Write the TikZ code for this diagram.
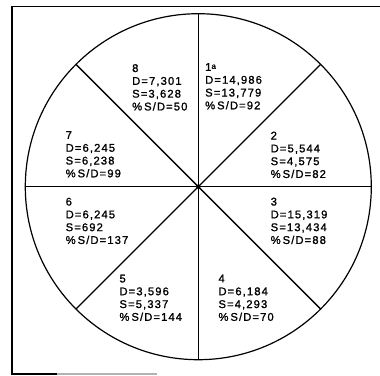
\documentclass[tikz,border=0pt]{standalone}
\usepackage{fontspec}
\setmainfont[LetterSpace=10,FakeBold=1.2]{Liberation Sans}
\newcommand{\pct}{\%\hspace{2pt}}
\begin{document}
\begin{tikzpicture}[x=1pt,y=-1pt,
  frameline/.style={line width=1.3pt},
  spoke/.style={line width=1.4pt},
  sector/.style={anchor=north west,inner sep=0pt,align=left,
    font=\fontsize{11.2}{12.8}\selectfont}]
\useasboundingbox (0,0) rectangle (380,375);
% frame
\coordinate (ftr) at (380,6.5);
\coordinate (ftl) at (12,6.5);
\coordinate (fbl) at (12,374);
\coordinate (fbm) at (57,374);
\coordinate (fbr) at (157,374);
\draw[frameline] (ftr) -- (ftl) -- (fbl) -- (fbm);
\draw[frameline,gray!60] (fbm) -- (fbr);
% pie
\node[circle,draw,line width=1.2pt,minimum size=346pt,inner sep=0pt,outer sep=0pt] (pie) at (198.3,186.7) {};
\draw[spoke] (pie.north) -- (pie.south);
\draw[spoke] (pie.west) -- (pie.east);
\draw[spoke] (pie.north east) -- (pie.south west);
\draw[spoke] (pie.north west) -- (pie.south east);
\fill (pie.center) circle (2.2);
% sectors
\node[sector] (s8) at (132,64) {8\\D=7,301\\S=3,628\\\pct S/D=50};
\node[sector] (s1) at (205,63) {1\raisebox{0.35ex}{\fontsize{8}{8}\selectfont a}\\D=14,986\\S=13,779\\\pct S/D=92};
\node[sector] (s2) at (270.5,131.5) {2\\D=5,544\\S=4,575\\\pct S/D=82};
\node[sector] (s7) at (65.5,131) {7\\D=6,245\\S=6,238\\\pct S/D=99};
\node[sector] (s6) at (65.5,197.5) {6\\D=6,245\\S=692\\\pct S/D=137};
\node[sector] (s3) at (270.5,197.5) {3\\D=15,319\\S=13,434\\\pct S/D=88};
\node[sector] (s5) at (119.3,274.5) {5\\D=3,596\\S=5,337\\\pct S/D=144};
\node[sector] (s4) at (218.3,274.5) {4\\D=6,184\\S=4,293\\\pct S/D=70};
\end{tikzpicture}
\end{document}
